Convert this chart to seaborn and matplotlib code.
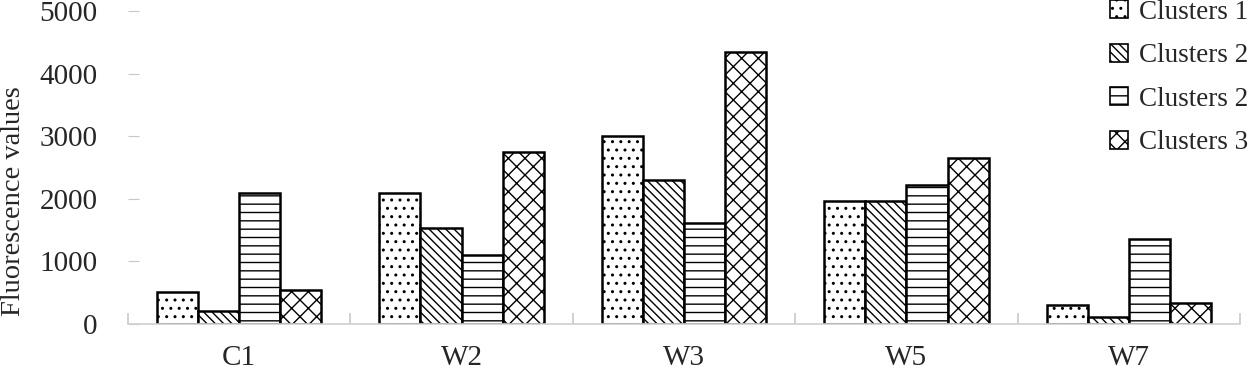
import pandas as pd
import matplotlib
matplotlib.use("Agg")
import matplotlib.pyplot as plt
import seaborn as sns
from matplotlib.patches import Patch

samples = ["C1", "W2", "W3", "W5", "W7"]
series = ["Clusters 1", "Clusters 2", "Clusters 2", "Clusters 3"]
clusters_1 = [510, 2100, 3000, 1960, 310]
clusters_2a = [200, 1530, 2300, 1960, 110]
clusters_2b = [2100, 1100, 1610, 2220, 1350]
clusters_3 = [540, 2740, 4340, 2650, 340]
hatches = ["..", "\\\\\\\\", "--", "xx"]

# hue keys must be unique; legend labels come from `series`
keys = ["s1", "s2", "s3", "s4"]
rows = []
for k, vals in zip(keys, [clusters_1, clusters_2a, clusters_2b, clusters_3]):
    for s, v in zip(samples, vals):
        rows.append({"sample": s, "series": k, "value": v})
df = pd.DataFrame(rows)

sns.set_style("white")
plt.rcParams["font.family"] = ["Liberation Serif", "DejaVu Serif"]
plt.rcParams["hatch.linewidth"] = 1.0

fig = plt.figure(figsize=(12.5, 3.78), dpi=100)
ax = fig.add_axes([0.1024, 0.1429, 0.8896, 0.828])

pal = {k: "white" for k in keys}
sns.barplot(data=df, x="sample", y="value", hue="series", hue_order=keys,
            palette=pal, width=0.74, edgecolor="black", linewidth=1.8,
            saturation=1, legend=False, ax=ax)

for i, k in enumerate(keys):
    for bar in ax.containers[i]:
        bar.set_hatch(hatches[i])

ax.set_ylim(0, 5000)
ax.set_xlim(-0.5, 4.5)
ax.set_yticks([0, 1000, 2000, 3000, 4000, 5000])
ax.set_xlabel("")
ax.set_ylabel("Fluorescence values", fontsize=20.5)
ax.yaxis.set_label_coords(-0.092, 0.393)

for sp in ["left", "top", "right"]:
    ax.spines[sp].set_visible(False)
ax.spines["bottom"].set_color("#d0d0d0")
ax.spines["bottom"].set_linewidth(1.2)

ax.tick_params(axis="y", direction="in", length=8, color="#c8c8c8",
               labelsize=21, pad=22, left=True)
ax.tick_params(axis="x", which="major", length=0, labelsize=21, pad=15)
ax.set_xticks([-0.5, 0.5, 1.5, 2.5, 3.5, 4.5], minor=True)
ax.tick_params(axis="x", which="minor", direction="in", length=8,
               color="#c8c8c8", width=1.2, bottom=True)

handles = [Patch(facecolor="white", edgecolor="black", hatch=h, linewidth=1.2)
           for h in hatches]
ax.legend(handles, series, loc="upper right", bbox_to_anchor=(1.017, 1.07),
          frameon=False, fontsize=19.5, handlelength=0.65, handleheight=0.65,
          handletextpad=0.4, labelspacing=0.68, borderaxespad=0)

fig.savefig("out.png", dpi=100)
